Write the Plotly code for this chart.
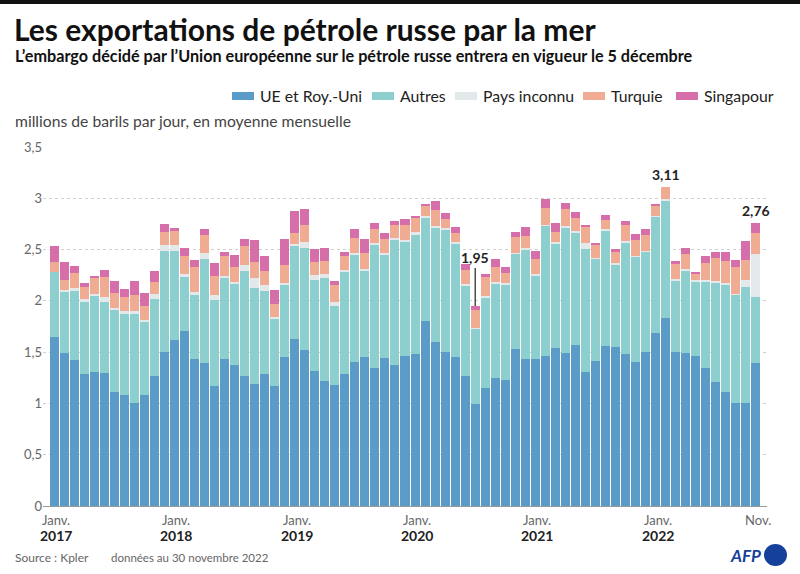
import plotly.graph_objects as go
import pandas as pd

# monthly values, millions of barrels per day
months = [d.strftime("%Y-%m") for d in pd.date_range("2017-01-01", "2022-11-01", freq="MS")]

ue_roy_uni = [
    1.65, 1.49, 1.42, 1.29, 1.31, 1.30, 1.11, 1.08, 1.00, 1.08, 1.27, 1.50,
    1.62, 1.71, 1.43, 1.39, 1.17, 1.43, 1.37, 1.27, 1.19, 1.29, 1.17, 1.45,
    1.63, 1.52, 1.32, 1.22, 1.18, 1.29, 1.40, 1.45, 1.35, 1.44, 1.37, 1.46,
    1.48, 1.80, 1.60, 1.50, 1.45, 1.27, 0.99, 1.15, 1.25, 1.23, 1.53, 1.43,
    1.43, 1.46, 1.54, 1.49, 1.57, 1.31, 1.41, 1.56, 1.55, 1.48, 1.40, 1.50,
    1.69, 1.83, 1.50, 1.49, 1.46, 1.35, 1.21, 1.11, 1.00, 1.00, 1.39,
]
autres = [
    0.63, 0.60, 0.68, 0.70, 0.74, 0.69, 0.80, 0.79, 0.87, 0.71, 0.75, 0.99,
    0.87, 0.52, 0.63, 1.02, 0.84, 0.80, 0.79, 1.02, 0.94, 0.81, 0.66, 0.70,
    0.90, 1.00, 0.88, 1.00, 0.77, 1.00, 1.05, 0.85, 1.19, 1.01, 1.22, 1.11,
    1.16, 1.01, 1.12, 1.20, 1.11, 0.88, 0.74, 0.88, 0.92, 0.93, 0.93, 1.07,
    0.82, 1.27, 1.02, 1.22, 1.09, 1.20, 1.00, 1.13, 0.80, 1.09, 1.03, 0.98,
    1.13, 1.15, 0.70, 0.81, 0.73, 0.84, 0.96, 1.04, 1.06, 1.14, 0.65,
]
pays_inconnu = [
    0.00, 0.02, 0.03, 0.03, 0.02, 0.05, 0.02, 0.03, 0.03, 0.02, 0.05, 0.05,
    0.05, 0.03, 0.03, 0.06, 0.05, 0.01, 0.02, 0.06, 0.09, 0.05, 0.01, 0.02,
    0.02, 0.05, 0.05, 0.04, 0.04, 0.01, 0.02, 0.01, 0.02, 0.02, 0.02, 0.02,
    0.03, 0.02, 0.01, 0.01, 0.01, 0.01, 0.01, 0.02, 0.01, 0.01, 0.01, 0.02,
    0.01, 0.01, 0.01, 0.02, 0.02, 0.05, 0.01, 0.01, 0.02, 0.01, 0.01, 0.01,
    0.01, 0.01, 0.01, 0.01, 0.01, 0.01, 0.02, 0.02, 0.01, 0.06, 0.42,
]
turquie = [
    0.10, 0.09, 0.14, 0.12, 0.15, 0.19, 0.15, 0.14, 0.16, 0.14, 0.11, 0.13,
    0.14, 0.18, 0.24, 0.17, 0.18, 0.20, 0.15, 0.18, 0.16, 0.14, 0.13, 0.18,
    0.11, 0.17, 0.13, 0.13, 0.16, 0.14, 0.14, 0.16, 0.14, 0.13, 0.13, 0.15,
    0.14, 0.10, 0.16, 0.09, 0.09, 0.14, 0.17, 0.18, 0.15, 0.10, 0.15, 0.11,
    0.15, 0.17, 0.10, 0.17, 0.13, 0.16, 0.13, 0.09, 0.11, 0.16, 0.15, 0.15,
    0.10, 0.12, 0.15, 0.15, 0.07, 0.17, 0.23, 0.22, 0.26, 0.20, 0.20,
]
singapour = [
    0.15, 0.18, 0.07, 0.03, 0.02, 0.07, 0.11, 0.08, 0.13, 0.13, 0.11, 0.08,
    0.03, 0.08, 0.07, 0.06, 0.13, 0.04, 0.12, 0.07, 0.21, 0.15, 0.14, 0.25,
    0.22, 0.16, 0.13, 0.13, 0.04, 0.04, 0.09, 0.13, 0.06, 0.06, 0.04, 0.06,
    0.01, 0.01, 0.08, 0.06, 0.06, 0.06, 0.04, 0.03, 0.08, 0.06, 0.05, 0.09,
    0.08, 0.08, 0.09, 0.05, 0.06, 0.02, 0.01, 0.05, 0.03, 0.04, 0.06, 0.06,
    0.01, 0.00, 0.03, 0.06, 0.01, 0.07, 0.06, 0.09, 0.07, 0.18, 0.10,
]

series = [
    ("UE et Roy.-Uni", ue_roy_uni, "#5b9bc7"),
    ("Autres", autres, "#8dcfcf"),
    ("Pays inconnu", pays_inconnu, "#e3e8eb"),
    ("Turquie", turquie, "#f0ab93"),
    ("Singapour", singapour, "#d66fa9"),
]

x_tick_months = ["2017-01", "2018-01", "2019-01", "2020-01", "2021-01", "2022-01", "2022-11"]
x_tick_top = ["Janv.", "Janv.", "Janv.", "Janv.", "Janv.", "Janv.", "Nov."]
x_tick_years = ["2017", "2018", "2019", "2020", "2021", "2022", ""]
y_ticks = [0, 0.5, 1, 1.5, 2, 2.5, 3, 3.5]
y_tick_labels = ["0", "0,5", "1", "1,5", "2", "2,5", "3", "3,5"]

# labelled bars: month, shown value
callouts = [("2020-07", "1,95"), ("2022-02", "3,11"), ("2022-11", "2,76")]

FONT = "Lato"
W, H = 800, 574
# plot box in page pixels: left, right, top, bottom
PL, PR, PT, PB = 43, 767, 147, 506


def px(x):
    return x / W


def py(y):
    return 1 - y / H


fig = go.Figure()
for name, vals, color in series:
    fig.add_trace(go.Bar(name=name, x=months, y=vals, marker_color=color,
                         marker_line_width=0, showlegend=False))

totals = {m: round(sum(s[1][i] for s in series), 2) for i, m in enumerate(months)}

# callouts
m, txt = callouts[0]
fig.add_annotation(x=m, y=totals[m], text="<b>" + txt + "</b>", showarrow=True,
                   arrowhead=0, arrowwidth=1.2, arrowcolor="#222", ax=0, ay=-48,
                   font=dict(family=FONT, size=14, color="#222"))
for m, txt in callouts[1:]:
    fig.add_annotation(x=m, y=totals[m], text="<b>" + txt + "</b>", showarrow=False,
                       yanchor="bottom", yshift=2,
                       font=dict(family=FONT, size=14, color="#222"))

# x tick labels: month on top, bold year below
for m, top, yr in zip(x_tick_months, x_tick_top, x_tick_years):
    fig.add_annotation(x=m, xref="x", yref="paper", y=py(520), yanchor="middle", xshift=2,
                       text=top, showarrow=False, font=dict(family=FONT, size=13, color="#666"))
    if yr:
        fig.add_annotation(x=m, xref="x", yref="paper", y=py(535), yanchor="middle", xshift=2,
                           text="<b>" + yr + "</b>", showarrow=False,
                           font=dict(family=FONT, size=14, color="#222"))

# titles
fig.add_annotation(xref="paper", yref="paper", x=px(12), y=py(29), xanchor="left", yanchor="middle",
                   text="<b>Les exportations de pétrole russe par la mer</b>", showarrow=False,
                   font=dict(family=FONT, size=30, color="#111"))
fig.add_annotation(xref="paper", yref="paper", x=px(13), y=py(56), xanchor="left", yanchor="middle",
                   text="<b>L’embargo décidé par l’Union européenne sur le pétrole russe entrera en vigueur le 5 décembre</b>",
                   showarrow=False, font=dict(family=FONT, size=16.2, color="#111"))
fig.add_annotation(xref="paper", yref="paper", x=px(13), y=py(121), xanchor="left", yanchor="middle",
                   text="millions de barils par jour, en moyenne mensuelle", showarrow=False,
                   font=dict(family=FONT, size=15.7, color="#444"))

# legend drawn by hand (wide swatches as in the original)
legend_x = [232, 372, 455, 583, 676]
for (name, vals, color), lx in zip(series, legend_x):
    fig.add_shape(type="rect", xref="paper", yref="paper", x0=px(lx), x1=px(lx + 22),
                  y0=py(100), y1=py(92), fillcolor=color, line_width=0)
    fig.add_annotation(xref="paper", yref="paper", x=px(lx + 26), y=py(96), xanchor="left",
                       yanchor="middle", text=name, showarrow=False,
                       font=dict(family=FONT, size=15.8, color="#222"))

# footer
fig.add_annotation(xref="paper", yref="paper", x=px(13), y=py(557), xanchor="left", yanchor="middle",
                   text="Source : Kpler", showarrow=False, font=dict(family=FONT, size=12, color="#666"))
fig.add_annotation(xref="paper", yref="paper", x=px(109), y=py(557), xanchor="left", yanchor="middle",
                   text="données au 30 novembre 2022", showarrow=False,
                   font=dict(family=FONT, size=11.5, color="#666"))
fig.add_annotation(xref="paper", yref="paper", x=px(763), y=py(555), xanchor="right", yanchor="middle",
                   text="<b><i>AFP</i></b>", showarrow=False,
                   font=dict(family=FONT, size=17, color="#16419a"))
fig.add_shape(type="circle", xref="paper", yref="paper", x0=px(764), x1=px(787),
              y0=py(566), y1=py(544), fillcolor="#16419a", line_width=0)

# black band on top
fig.add_shape(type="rect", xref="paper", yref="paper", x0=0, x1=1, y0=py(4), y1=1,
              fillcolor="#111", line_width=0)

fig.update_layout(
    width=W, height=H, barmode="stack", bargap=0.1,
    margin=dict(l=0, r=0, t=0, b=0),
    paper_bgcolor="white", plot_bgcolor="white",
    font=dict(family=FONT, color="#555"),
    xaxis=dict(type="category", range=[-1.1, 71.1], domain=[px(PL), px(PR)],
               showticklabels=False, showgrid=False, automargin=False,
               showline=True, linecolor="#999", linewidth=1, ticks=""),
    yaxis=dict(range=[0, 3.5], domain=[py(PB), py(PT)], automargin=False,
               tickmode="array", tickvals=y_ticks, ticktext=y_tick_labels,
               showgrid=True, gridcolor="#cfcfcf", griddash="dot", gridwidth=1,
               zeroline=False, showline=False, ticks="",
               tickfont=dict(family=FONT, size=13, color="#666")),
)

# the page's default body margin would push the figure 8px down/right
fig.write_html("out.html", config={"displayModeBar": False},
               post_script="document.body.style.margin='0';")
